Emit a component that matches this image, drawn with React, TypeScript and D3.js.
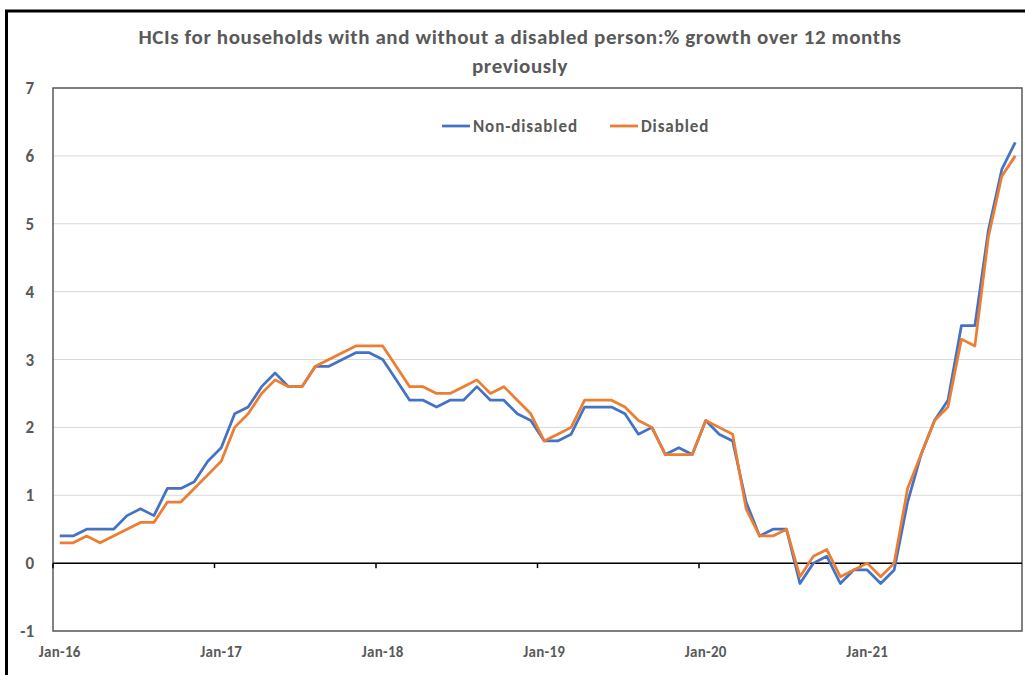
import React from "react";
import * as d3 from "d3";

const years = ["16", "17", "18", "19", "20", "21"];
const monthNames = ["Jan", "Feb", "Mar", "Apr", "May", "Jun", "Jul", "Aug", "Sep", "Oct", "Nov", "Dec"];
const categories: string[] = years.flatMap((y) => monthNames.map((m) => `${m}-${y}`));

const nonDisabled = [
  0.4, 0.4, 0.5, 0.5, 0.5, 0.7, 0.8, 0.7, 1.1, 1.1, 1.2, 1.5,
  1.7, 2.2, 2.3, 2.6, 2.8, 2.6, 2.6, 2.9, 2.9, 3.0, 3.1, 3.1,
  3.0, 2.7, 2.4, 2.4, 2.3, 2.4, 2.4, 2.6, 2.4, 2.4, 2.2, 2.1,
  1.8, 1.8, 1.9, 2.3, 2.3, 2.3, 2.2, 1.9, 2.0, 1.6, 1.7, 1.6,
  2.1, 1.9, 1.8, 0.9, 0.4, 0.5, 0.5, -0.3, 0.0, 0.1, -0.3, -0.1,
  -0.1, -0.3, -0.1, 0.9, 1.6, 2.1, 2.4, 3.5, 3.5, 4.9, 5.8, 6.2,
];

const disabled = [
  0.3, 0.3, 0.4, 0.3, 0.4, 0.5, 0.6, 0.6, 0.9, 0.9, 1.1, 1.3,
  1.5, 2.0, 2.2, 2.5, 2.7, 2.6, 2.6, 2.9, 3.0, 3.1, 3.2, 3.2,
  3.2, 2.9, 2.6, 2.6, 2.5, 2.5, 2.6, 2.7, 2.5, 2.6, 2.4, 2.2,
  1.8, 1.9, 2.0, 2.4, 2.4, 2.4, 2.3, 2.1, 2.0, 1.6, 1.6, 1.6,
  2.1, 2.0, 1.9, 0.8, 0.4, 0.4, 0.5, -0.2, 0.1, 0.2, -0.2, -0.1,
  0.0, -0.2, 0.0, 1.1, 1.6, 2.1, 2.3, 3.3, 3.2, 4.8, 5.7, 6.0,
];

const xTickLabels = ["Jan-16", "Jan-17", "Jan-18", "Jan-19", "Jan-20", "Jan-21"];
const yTicks = [-1, 0, 1, 2, 3, 4, 5, 6, 7];

const seriesNames = ["Non-disabled", "Disabled"];
const seriesColors = ["#4472C4", "#ED7D31"];

const titleLines = [
  "HCIs for households with and without a disabled person:% growth over 12 months",
  "previously",
];

const FONT = "Carlito, Calibri, Lato, 'Open Sans', sans-serif";
const TEXT = "#595959";

export default function App() {
  const W = 1025;
  const H = 675;
  const left = 53;
  const right = 1022;
  const top = 88;
  const bottom = 631;

  const x = d3.scaleBand<string>().domain(categories).range([left, right]).padding(0);
  const y = d3.scaleLinear().domain([-1, 7]).range([bottom, top]);
  const cx = (c: string) => (x(c) as number) + x.bandwidth() / 2;

  const line = d3
    .line<number>()
    .x((_, i) => cx(categories[i]))
    .y((d) => y(d));

  const series = [nonDisabled, disabled];

  return (
    <svg
      width={W}
      height={H}
      style={{ position: "absolute", left: 0, top: 0, background: "#fff" }}
      fontFamily={FONT}
    >
      <rect x={0} y={0} width={W} height={H} fill="#fff" />
      {/* outer frame */}
      <rect x={6.5} y={11} width={1040} height={700} fill="none" stroke="#000" strokeWidth={3} />

      {/* title */}
      {titleLines.map((t, i) => (
        <text
          key={i}
          x={520}
          y={44 + i * 29}
          textAnchor="middle"
          fontSize={21}
          letterSpacing={0.6}
          fontWeight="bold"
          fill={TEXT}
        >
          {t}
        </text>
      ))}

      {/* gridlines */}
      {yTicks.map((t) => (
        <line
          key={"g" + t}
          x1={left}
          x2={right}
          y1={y(t)}
          y2={y(t)}
          stroke="#d9d9d9"
          strokeWidth={1}
        />
      ))}

      {/* plot border */}
      <rect
        x={left}
        y={top}
        width={right - left}
        height={bottom - top}
        fill="none"
        stroke="#595959"
        strokeWidth={1.5}
      />

      {/* zero axis */}
      <line x1={left} x2={right} y1={y(0)} y2={y(0)} stroke="#000" strokeWidth={1.5} />
      {xTickLabels.map((lab) => {
        const xb = x(lab) as number;
        return (
          <g key={lab}>
            <line x1={xb} x2={xb} y1={y(0)} y2={y(0) + 5} stroke="#000" strokeWidth={1.5} />
            <text
              x={cx(lab)}
              y={657}
              textAnchor="middle"
              fontSize={15}
              letterSpacing={0.3}
              fontWeight="bold"
              fill={TEXT}
            >
              {lab}
            </text>
          </g>
        );
      })}

      {/* y labels */}
      {yTicks.map((t) => (
        <text
          key={"yl" + t}
          x={34}
          y={y(t) + 6}
          textAnchor="end"
          fontSize={17}
          fontWeight="bold"
          fill={TEXT}
        >
          {t}
        </text>
      ))}

      {/* lines */}
      {series.map((s, i) => (
        <path
          key={seriesNames[i]}
          d={line(s) || ""}
          fill="none"
          stroke={seriesColors[i]}
          strokeWidth={2.75}
          strokeLinejoin="round"
        />
      ))}

      {/* legend */}
      {[
        { lx: 442, tx: 473 },
        { lx: 610, tx: 641 },
      ].map((p, i) => (
        <g key={"lg" + i}>
          <line x1={p.lx} x2={p.lx + 28} y1={126} y2={126} stroke={seriesColors[i]} strokeWidth={2.75} />
          <text x={p.tx} y={132} fontSize={17} letterSpacing={0.9} fontWeight="bold" fill={TEXT}>
            {seriesNames[i]}
          </text>
        </g>
      ))}
    </svg>
  );
}
